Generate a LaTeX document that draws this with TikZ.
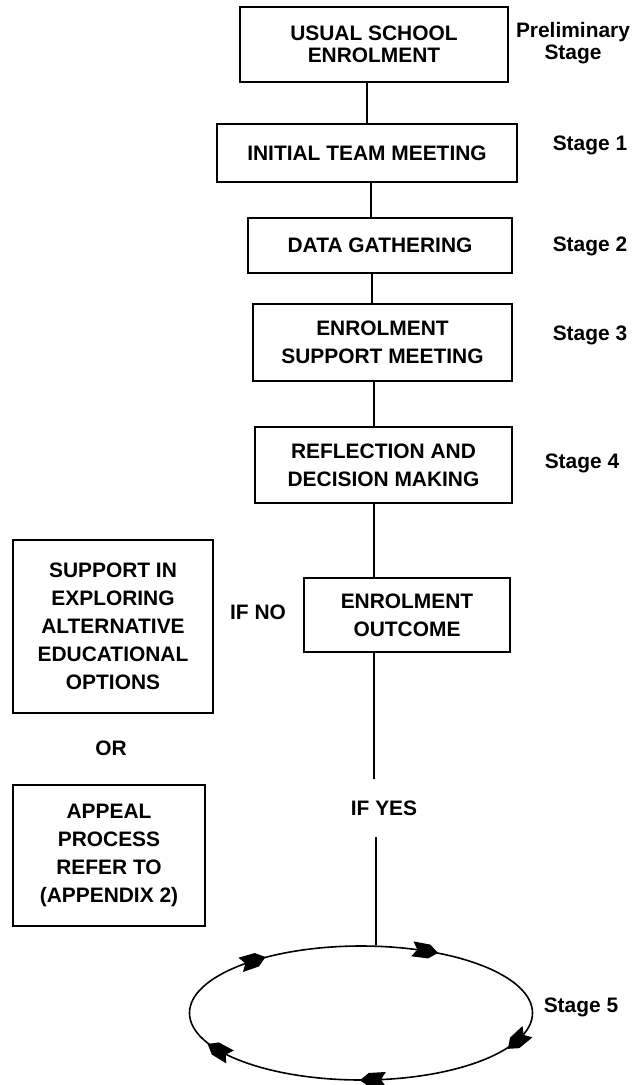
\documentclass[tikz,border=0pt]{standalone}
\usepackage{fontspec}
\setmainfont{Liberation Sans}
\usetikzlibrary{shapes.geometric,calc}
\begin{document}
\begin{tikzpicture}[x=1bp,y=1bp,
  box/.style={draw,line width=1.4bp,inner sep=0pt,align=center,font=\bfseries\fontsize{21}{28}\selectfont},
  lbl/.style={inner sep=0pt,align=center,font=\bfseries\fontsize{21}{28}\selectfont},
  conn/.style={line width=1.4bp},
  cycarrow/.style={fill=black}]
\useasboundingbox (0,0) rectangle (632,-1085);
% main column boxes
\node[box,minimum width=268bp,minimum height=75bp,font=\bfseries\fontsize{21}{22}\selectfont] (b1) at (374,-44.5) {USUAL SCHOOL\\ENROLMENT};
\node[box,minimum width=300bp,minimum height=58bp] (b2) at (367,-153) {INITIAL TEAM MEETING};
\node[box,minimum width=264bp,minimum height=55bp] (b3) at (380,-245.5) {DATA GATHERING};
\node[box,minimum width=259bp,minimum height=77bp] (b4) at (382.5,-342.5) {ENROLMENT\\SUPPORT MEETING};
\node[box,minimum width=257bp,minimum height=76bp] (b5) at (383.5,-465) {REFLECTION AND\\DECISION MAKING};
\node[box,minimum width=206bp,minimum height=74bp] (b6) at (407,-615) {ENROLMENT\\OUTCOME};
% left boxes
\node[box,minimum width=200bp,minimum height=173bp] (sup) at (113,-626.5) {SUPPORT IN\\EXPLORING\\ALTERNATIVE\\EDUCATIONAL\\OPTIONS};
\node[box,minimum width=192bp,minimum height=141bp] (app) at (109,-855.5) {APPEAL\\PROCESS\\REFER TO\\(APPENDIX 2)};
% labels
\node[lbl,font=\bfseries\fontsize{21}{22}\selectfont] (s0) at (573,-43) {Preliminary\\Stage};
\node[lbl] (s1) at (590,-145) {Stage 1};
\node[lbl] (s2) at (590,-246) {Stage 2};
\node[lbl] (s3) at (590,-335) {Stage 3};
\node[lbl] (s4) at (582,-463) {Stage 4};
\node[lbl] (s5) at (581,-1007) {Stage 5};
\node[lbl] (no) at (258,-612) {IF NO};
\node[lbl] (or) at (111,-748) {OR};
\node[lbl,minimum height=58bp] (yes) at (384,-808) {IF YES};
% cycle ellipse
\node[draw,ellipse,line width=1.6bp,minimum width=343bp,minimum height=134bp,inner sep=0pt] (cyc) at (361,-1013) {};
% connector x positions
\coordinate (x1) at (367,0);
\coordinate (x2) at (371,0);
\coordinate (x3) at (372,0);
\coordinate (x4) at (374,0);
\coordinate (x5) at (374,0);
\coordinate (x6) at (374,0);
\coordinate (x7) at (376,0);
\draw[conn] (b1.south -| x1) -- (b2.north -| x1);
\draw[conn] (b2.south -| x2) -- (b3.north -| x2);
\draw[conn] (b3.south -| x3) -- (b4.north -| x3);
\draw[conn] (b4.south -| x4) -- (b5.north -| x4);
\draw[conn] (b5.south -| x5) -- (b6.north -| x5);
\draw[conn] (b6.south -| x6) -- (yes.north -| x6);
\draw[conn] (yes.south -| x7) -- (cyc.north -| x7);
% arrows on the cycle (clockwise)
\foreach \t in {129,68,-24,-86,214}{
  \pgfmathsetmacro{\ang}{atan2(-67*cos(\t),171.5*sin(\t))}
  \path (cyc.center) ++(\t:171.5bp and 67bp) coordinate (p);
  \fill[cycarrow,shift={(p)},rotate=\ang] (13,0) -- (4,7) -- (-13,7.5) -- (-8,0) -- (-13,-7.5) -- (4,-7) -- cycle;
}
\end{tikzpicture}
\end{document}
